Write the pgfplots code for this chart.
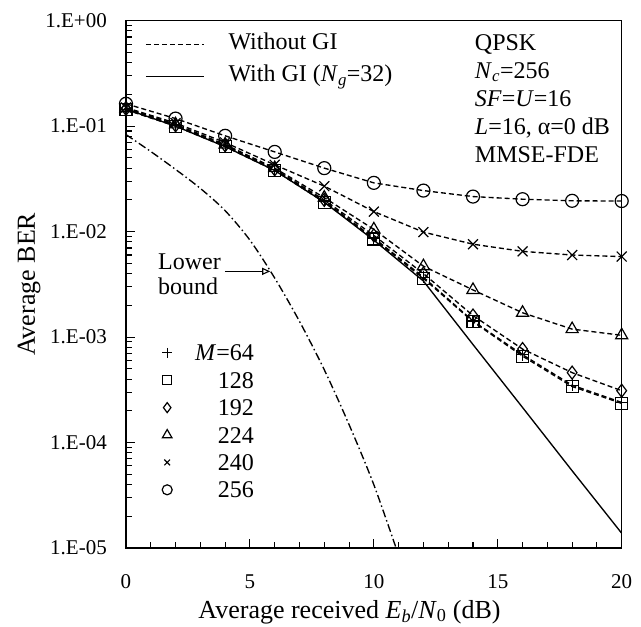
\documentclass[border=0pt]{standalone}
\usepackage{fontspec}
\setmainfont{Liberation Serif}
\usepackage{pgfplots}
\pgfplotsset{compat=1.18}
\usetikzlibrary{arrows.meta}
\tikzset{
  dsh/.style={black, line width=1.35pt, dash pattern=on 5pt off 3pt},
  mk/.style={mark options={solid, line width=1.2pt}},
}
\begin{document}
\begin{tikzpicture}
\begin{axis}[scale only axis, width=495.7pt, height=527.3pt,
  xmin=0, xmax=20, ymode=log, ymin=1e-5, ymax=1,
  axis line style={line width=1.5pt},
  xtick={0,5,10,15,20}, minor x tick num=4,
  ytick={1e-5,1e-4,1e-3,1e-2,1e-1,1},
  minor ytick={2e-5,3e-5,4e-5,5e-5,6e-5,7e-5,8e-5,9e-5,
    2e-4,3e-4,4e-4,5e-4,6e-4,7e-4,8e-4,9e-4,
    2e-3,3e-3,4e-3,5e-3,6e-3,7e-3,8e-3,9e-3,
    2e-2,3e-2,4e-2,5e-2,6e-2,7e-2,8e-2,9e-2,
    0.2,0.3,0.4,0.5,0.6,0.7,0.8,0.9},
  yticklabels={1.E-05,1.E-04,1.E-03,1.E-02,1.E-01,1.E+00},
  tick align=inside, xtick pos=bottom, ytick pos=left,
  major tick length=9pt, minor tick length=6pt,
  every tick/.style={black, line width=1.1pt},
  /pgf/number format/assume math mode=true,
  ticklabel style={font=\fontsize{21}{24}\selectfont},
  xticklabel style={anchor=base, yshift=-40pt},
  yticklabel style={anchor=east, inner sep=0pt, xshift=-19pt},
  xlabel={Average received \textit{E}\textsubscript{\textit{b}}/\textit{N}\textsubscript{0} (dB)},
  ylabel={Average BER},
  label style={font=\fontsize{26}{30}\selectfont},
  xlabel style={at={(axis description cs:0.451,-0.1328)}, anchor=base},
  ylabel style={at={(axis description cs:-0.1957,0.5)}, anchor=center},
  legend style={at={(axis description cs:0,1)}, anchor=north west,
    xshift=19pt, yshift=-12pt, draw=none, fill=none, inner sep=0pt,
    font=\fontsize{24}{28}\selectfont,
    nodes={inner sep=0pt, text height=17pt, text depth=6pt},
    row sep=9pt, column sep=24pt},
  legend cell align=left,
  legend image code/.code={\draw[#1] (0pt,0pt) -- (58pt,0pt);},
]
\addlegendimage{dsh}
\addlegendentry{Without GI}
\addlegendimage{black, line width=1.35pt}
\addlegendentry{With GI (\textit{N}\textsubscript{\textit{g}}=32)}

% M=256
\addplot[dsh, mk, mark=o, mark size=6.5pt, forget plot] coordinates {
(0,0.163) (2,0.118) (4,0.081) (6,0.057) (8,0.040) (10,0.029) (12,0.0245) (14,0.0215) (16,0.0203) (18,0.0196) (20,0.0195)};
% M=240
\addplot[dsh, mk, mark=x, mark size=7pt, forget plot] coordinates {
(0,0.150) (2,0.107) (4,0.070) (6,0.043) (8,0.027) (10,0.0155) (12,0.0099) (14,0.0076) (16,0.0065) (18,0.0060) (20,0.0058)};
% M=224
\addplot[dsh, mk, mark=triangle, mark size=7pt, forget plot] coordinates {
(0,0.148) (2,0.104) (4,0.067) (6,0.040) (8,0.021) (10,0.0105) (12,0.0047) (14,0.0028) (16,0.0017) (18,0.00119) (20,0.00104)};
% M=192
\addplot[dsh, mk, mark=diamond, mark size=6.5pt, forget plot] coordinates {
(0,0.146) (2,0.102) (4,0.066) (6,0.039) (8,0.020) (10,0.0092) (12,0.0040) (14,0.0016) (16,0.00077) (18,0.00046) (20,0.00031)};
% M=128
\addplot[dsh, mk, mark=square, mark size=6pt, forget plot] coordinates {
(0,0.143) (2,0.100) (4,0.064) (6,0.038) (8,0.019) (10,0.0085) (12,0.0036) (14,0.0014) (16,0.00066) (18,0.00034) (20,0.000235)};
% M=64
\addplot[dsh, mk, mark=+, mark size=6pt, forget plot] coordinates {
(0,0.145) (2,0.101) (4,0.065) (6,0.0385) (8,0.0195) (10,0.0087) (12,0.0037) (14,0.00142) (16,0.00068) (18,0.00035) (20,0.00024)};
% With GI
\addplot[black, line width=1.35pt, forget plot] coordinates {
(0,0.145) (2,0.100) (4,0.064) (6,0.038) (8,0.019) (10,0.0083) (12,0.0034) (14,0.00085) (16,0.000215) (18,0.000054) (20,0.0000138)};
% Lower bound
\addplot[black, line width=1.35pt, smooth, dash pattern=on 8pt off 3pt on 1.5pt off 3pt, forget plot] coordinates {
(0,0.0832) (1,0.0575) (2,0.0389) (3,0.0257) (4,0.0158) (5,0.0083) (6,0.00363) (7,0.00141) (8,0.00049) (9,0.000148) (10,0.0000398) (11,0.0000085)};

\draw[-{Triangle[open, length=8pt, width=7pt]}, line width=1.1pt] (axis cs:3.99,0.0042) -- (axis cs:5.82,0.0042);
\node[anchor=west, align=left, inner sep=0pt, font=\fontsize{24}{25}\selectfont] at (axis cs:1.29,0.00393) {Lower\\bound};
\node[anchor=north west, align=left, inner sep=0pt, font=\fontsize{24}{28}\selectfont] at (axis cs:14.07,0.748)
 {QPSK\\\textit{N}\textsubscript{\textit{c}}=256\\\textit{SF}=\textit{U}=16\\\textit{L}=16, α=0 dB\\MMSE-FDE};
\end{axis}

\begin{axis}[scale only axis, width=495.7pt, height=527.3pt,
  xmin=0, xmax=20, ymode=log, ymin=1e-5, ymax=1, hide axis,
  legend style={at={(axis description cs:0,0)}, anchor=south west,
    xshift=36pt, yshift=50pt, draw=none, fill=none, inner sep=0pt,
    font=\fontsize{24}{28}\selectfont,
    nodes={inner sep=0pt, text height=16pt, text depth=0pt},
    row sep=11.4pt, column sep=23pt},
  legend cell align=right,
  legend image code/.code={\draw[#1] plot coordinates {(0pt,0pt)};},
]
\addlegendimage{only marks, mark=+, mark size=5pt, black, line width=1.2pt}
\addlegendentry{\textit{M}=64}
\addlegendimage{only marks, mark=square, mark size=4.5pt, black, line width=1.2pt}
\addlegendentry{128}
\addlegendimage{only marks, mark=diamond, mark size=5pt, black, line width=1.2pt}
\addlegendentry{192}
\addlegendimage{only marks, mark=triangle, mark size=5.5pt, black, line width=1.2pt}
\addlegendentry{224}
\addlegendimage{only marks, mark=x, mark size=4pt, black, line width=1.2pt}
\addlegendentry{240}
\addlegendimage{only marks, mark=o, mark size=5pt, black, line width=1.2pt}
\addlegendentry{256}
\end{axis}
\path (current axis.south west) ++(-126pt,-78pt) rectangle ++(641pt,626pt);
\end{tikzpicture}
\end{document}
